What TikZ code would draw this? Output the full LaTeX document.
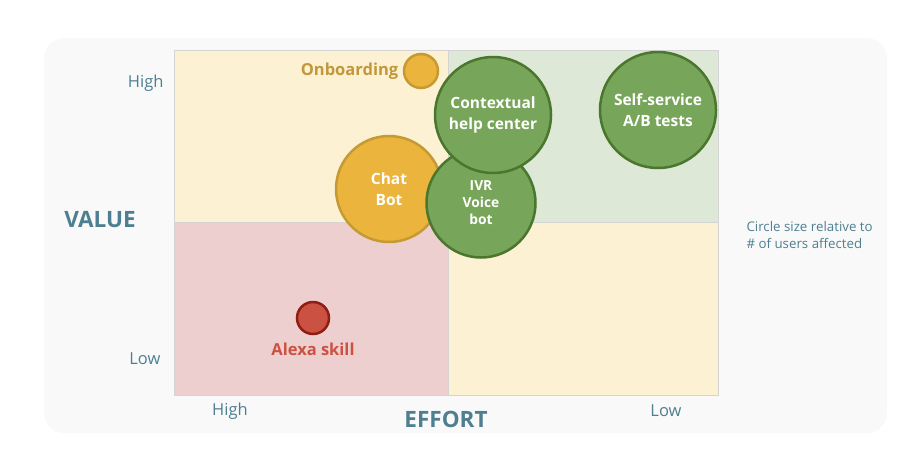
\documentclass[tikz,border=0pt]{standalone}
\usepackage{fontspec}
\setmainfont{Open Sans}
\usetikzlibrary{positioning}
\definecolor{panelbg}{HTML}{F9F9F9}
\definecolor{quadyellow}{HTML}{FDF1D3}
\definecolor{quadgreen}{HTML}{DDE8D6}
\definecolor{quadred}{HTML}{ECCFCE}
\definecolor{quadline}{HTML}{D4D4D4}
\definecolor{axisblue}{HTML}{4E7F91}
\definecolor{yfill}{HTML}{EBB43D}
\definecolor{ydraw}{HTML}{C59A33}
\definecolor{ytext}{HTML}{C1983A}
\definecolor{gfill}{HTML}{77A55A}
\definecolor{gdraw}{HTML}{4A772D}
\definecolor{rfill}{HTML}{CB5142}
\definecolor{rdraw}{HTML}{8F1D14}
\tikzset{
    bubble/.style={circle, inner sep=0pt, minimum size=#1, line width=2.5pt,
        text=white, align=center, font=\bfseries\fontsize{15.5}{20.5}\selectfont},
    yellowbubble/.style={bubble=#1, fill=yfill, draw=ydraw},
    greenbubble/.style={bubble=#1, fill=gfill, draw=gdraw},
    redbubble/.style={bubble=#1, fill=rfill, draw=rdraw},
    ticklabel/.style={text=axisblue, font=\fontsize{16.5}{18}\selectfont},
    axistitle/.style={text=axisblue, font=\bfseries\fontsize{22.5}{24}\selectfont},
    outlabel/.style={font=\bfseries\fontsize{16.5}{18}\selectfont},
}
\begin{document}
\begin{tikzpicture}[x=1pt, y=-1pt]
    \useasboundingbox (0,0) rectangle (909,472);
    \fill[panelbg, rounded corners=20pt] (44,38) rectangle (887,433);
    \foreach \xa/\ya/\xb/\yb/\c in {174/50/448/222/quadyellow, 448/50/718/222/quadgreen,
        174/222/448/395/quadred, 448/222/718/395/quadyellow}
        \fill[\c] (\xa,\ya) rectangle (\xb,\yb);
    \draw[quadline, line width=1pt] (174,50) rectangle (718,395);
    \draw[quadline, line width=1pt] (448,50) -- (448,395) (174,222) -- (718,222);
    % axes
    \node[ticklabel, anchor=east] (vhigh) at (167,83) {High};
    \node[ticklabel, anchor=east] (vlow) at (164,359) {Low};
    \node[axistitle] (value) at (100,220) {VALUE};
    \node[ticklabel] (ehigh) at (230,411) {High};
    \node[ticklabel] (elow) at (666,411) {Low};
    \node[axistitle] (effort) at (446,419) {EFFORT};
    \node[text=axisblue, align=left, anchor=west, font=\fontsize{13.3}{17}\selectfont]
        (legend) at (743,235) {Circle size relative to\\\# of users affected};
    % bubbles
    \node[yellowbubble=34pt] (onb) at (421,71) {};
    \node[outlabel, text=ytext, left=1pt of onb] (onblabel) {Onboarding};
    \node[yellowbubble=106pt] (chat) at (389,189) {Chat\\Bot};
    \node[greenbubble=109pt, font=\bfseries\fontsize{13.8}{17}\selectfont] (ivr) at (481,203) {IVR\\Voice\\bot};
    \node[greenbubble=116pt] (ctx) at (493,115) {Contextual\\help center};
    \node[greenbubble=116pt] (self) at (658,110) {Self-service\\A/B tests};
    \node[redbubble=32pt] (alexa) at (313,318) {};
    \node[outlabel, text=rfill, below=4pt of alexa] (alexalabel) {Alexa skill};
\end{tikzpicture}
\end{document}
